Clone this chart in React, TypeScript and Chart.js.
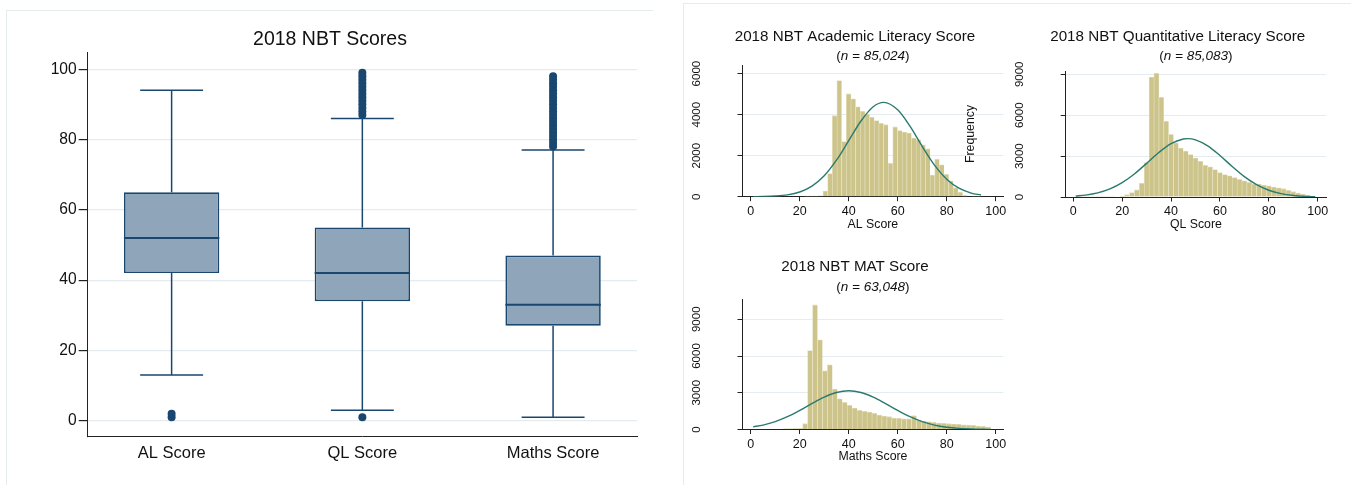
import React, { useEffect, useRef } from 'react';
import { Chart, registerables } from 'chart.js';

Chart.register(...registerables);

const FONT = '"Liberation Sans", Arial, Helvetica, sans-serif';
const NAVY = '#1a476f';
const BOX_FILL = '#8ea5ba';
const GRID = '#e4ecef';
const AXIS = '#222222';
const TEXT = '#111111';
const BAR_FILL = '#ccc48a';
const BAR_EDGE = '#e4dfba';
const CURVE = '#2a7a6f';
const FRAME = '#e6ecec';

// ---------- Box plot data ----------
const boxCategories = ['AL Score', 'QL Score', 'Maths Score'];
const boxLowerWhisker = [13, 3, 1];
const boxQ1 = [42, 34, 27];
const boxMedian = [52, 42, 33];
const boxQ3 = [65, 55, 47];
const boxUpperWhisker = [94, 86, 77];
const alOutliers = [1, 2];
const qlOutliers = [1, 87, 88, 89, 90, 91, 92, 93, 94, 95, 96, 97, 98, 99];
const mathsOutliers = [78, 79, 80, 81, 82, 83, 84, 85, 86, 87, 88, 89, 90, 91, 92, 93, 94, 95, 96, 97, 98];
const boxTitle = '2018 NBT Scores';
const boxYTicks = [0, 20, 40, 60, 80, 100];

// ---------- AL histogram ----------
const alTitle = '2018 NBT Academic Literacy Score';
const alN = '85,024';
const alXTitle = 'AL Score';
const alBinStart = 1;
const alBinWidth = 1.9;
const alCounts = [25, 20, 0, 0, 0, 0, 0, 0, 0, 0, 20, 25, 30, 35, 40, 280, 1130, 3950, 5660, 2690, 5010, 4770, 4380, 4160, 4030, 3870, 3710, 3580, 3510, 1630, 3400, 3220, 3150, 3100, 2860, 2780, 2530, 2330, 1060, 1830, 1550, 1090, 770, 440, 220, 60, 20, 10, 5];
const alCurveX = [1, 5, 10, 15, 20, 25, 30, 35, 40, 45, 50, 54.3, 60, 65, 70, 75, 80, 85, 90, 94];
const alCurveY = [3, 9, 31, 89, 229, 515, 1020, 1779, 2730, 3690, 4388, 4600, 4234, 3435, 2453, 1542, 853, 415, 178, 83];
const alYTicks = [0, 2000, 4000, 6000];

// ---------- QL histogram ----------
const qlTitle = '2018 NBT Quantitative Literacy Score';
const qlN = '85,083';
const qlXTitle = 'QL Score';
const qlBinStart = 1;
const qlBinWidth = 2;
const qlCounts = [10, 10, 10, 15, 15, 15, 20, 20, 30, 60, 170, 330, 520, 1000, 2530, 8790, 9080, 7310, 5560, 4590, 3980, 3590, 3370, 3110, 2860, 2620, 2330, 2210, 2010, 1800, 1650, 1550, 1430, 1290, 1190, 1070, 950, 950, 870, 825, 730, 680, 610, 485, 390, 290, 220, 120, 50];
const qlCurveX = [1, 5, 10, 15, 20, 25, 30, 35, 40, 45, 46.8, 50, 55, 60, 65, 70, 75, 80, 85, 90, 95, 99];
const qlCurveY = [71, 141, 304, 594, 1052, 1692, 2467, 3261, 3911, 4253, 4280, 4195, 3753, 3046, 2241, 1496, 906, 497, 248, 112, 46, 21];
const qlYTicks = [0, 3000, 6000, 9000];

// ---------- Maths histogram ----------
const mathsTitle = '2018 NBT MAT Score';
const mathsN = '63,048';
const mathsXTitle = 'Maths Score';
const mathsBinStart = 1;
const mathsBinWidth = 2.02;
const mathsCounts = [0, 0, 0, 0, 0, 40, 50, 60, 70, 80, 475, 6450, 10170, 7320, 4790, 5280, 3300, 2510, 2210, 1970, 1750, 1560, 1480, 1425, 1320, 1180, 1100, 1045, 940, 910, 880, 880, 1130, 775, 690, 640, 585, 530, 500, 475, 450, 420, 390, 365, 340, 285, 260, 200];
const mathsCurveX = [1, 5, 10, 15, 20, 25, 30, 35, 40, 45, 50, 55, 60, 65, 70, 75, 80, 85, 90, 95, 98];
const mathsCurveY = [214, 361, 642, 1044, 1556, 2121, 2647, 3023, 3160, 3023, 2647, 2121, 1556, 1044, 642, 361, 186, 88, 38, 15, 8];
const mathsYTicks = [0, 3000, 6000, 9000];

const xTickValues = [0, 20, 40, 60, 80, 100];

function drawSubtitle(ctx: CanvasRenderingContext2D, n: string, cx: number, cy: number, size: number) {
  const pre = '(';
  const it = 'n = ' + n;
  const post = ')';
  ctx.font = `${size}px ${FONT}`;
  const w1 = ctx.measureText(pre).width;
  const w3 = ctx.measureText(post).width;
  ctx.font = `italic ${size}px ${FONT}`;
  const w2 = ctx.measureText(it).width;
  let x = cx - (w1 + w2 + w3) / 2;
  ctx.textAlign = 'left';
  ctx.textBaseline = 'middle';
  ctx.font = `${size}px ${FONT}`;
  ctx.fillText(pre, x, cy);
  x += w1;
  ctx.font = `italic ${size}px ${FONT}`;
  ctx.fillText(it, x, cy);
  x += w2;
  ctx.font = `${size}px ${FONT}`;
  ctx.fillText(post, x, cy);
}

interface HistSpec {
  title: string;
  n: string;
  xTitle: string;
  binStart: number;
  binWidth: number;
  counts: number[];
  curveX: number[];
  curveY: number[];
  yTicks: number[];
  xMin: number;
  xMax: number;
  yMax: number;
  padLeft: number;
  padRight: number;
  padTop: number;
  xHeight: number;
  titleX: number;
  titleY: number;
  subY: number;
  yTitle?: { text: string; x: number; y: number };
}

function histConfig(s: HistSpec): any {
  const bars = s.counts.map((c, k) => ({ x: s.binStart + (k + 0.5) * s.binWidth, y: c }));
  const curve = s.curveX.map((x, i) => ({ x, y: s.curveY[i] }));
  const textPlugin = {
    id: 'histText',
    afterDraw(chart: any) {
      const { ctx, chartArea, scales } = chart;
      ctx.save();
      ctx.fillStyle = TEXT;
      ctx.textAlign = 'center';
      ctx.textBaseline = 'middle';
      ctx.font = `15.2px ${FONT}`;
      ctx.fillText(s.title, s.titleX, s.titleY);
      const cx = (chartArea.left + chartArea.right) / 2;
      drawSubtitle(ctx, s.n, cx, s.subY, 13.5);
      ctx.textAlign = 'center';
      ctx.font = `12.3px ${FONT}`;
      ctx.fillText(s.xTitle, cx, chartArea.bottom + 27.5);
      ctx.font = `11.5px ${FONT}`;
      s.yTicks.forEach((v) => {
        const py = scales.y.getPixelForValue(v);
        ctx.save();
        ctx.translate(chartArea.left - 46, py);
        ctx.rotate(-Math.PI / 2);
        ctx.fillText(String(v), 0, 0);
        ctx.restore();
      });
      if (s.yTitle) {
        ctx.font = `12.3px ${FONT}`;
        ctx.save();
        ctx.translate(s.yTitle.x, s.yTitle.y);
        ctx.rotate(-Math.PI / 2);
        ctx.fillText(s.yTitle.text, 0, 0);
        ctx.restore();
      }
      ctx.restore();
    },
  };
  return {
    type: 'bar',
    data: {
      datasets: [
        {
          type: 'line',
          data: curve,
          borderColor: CURVE,
          borderWidth: 1.4,
          pointRadius: 0,
          cubicInterpolationMode: 'monotone',
          fill: false,
          order: 0,
        },
        {
          type: 'bar',
          data: bars,
          backgroundColor: BAR_FILL,
          borderColor: BAR_EDGE,
          borderWidth: { left: 0.8, top: 0.8, right: 0, bottom: 0 },
          borderSkipped: 'start',
          barPercentage: 1,
          categoryPercentage: 1,
          order: 1,
        },
      ],
    },
    options: {
      responsive: false,
      animation: false,
      layout: { padding: { left: s.padLeft, right: s.padRight, top: s.padTop, bottom: 0 }, autoPadding: false },
      plugins: { legend: { display: false }, tooltip: { enabled: false }, title: { display: false } },
      scales: {
        x: {
          type: 'linear',
          min: s.xMin,
          max: s.xMax,
          offset: false,
          afterFit: (sc: any) => { sc.height = s.xHeight; },
          afterBuildTicks: (sc: any) => { sc.ticks = xTickValues.map((v) => ({ value: v })); },
          ticks: { font: { family: FONT, size: 12.5 }, color: TEXT, padding: 3, maxRotation: 0, autoSkip: false },
          grid: { offset: false, drawOnChartArea: false, drawTicks: true, tickLength: 4.5, tickColor: AXIS },
          border: { display: true, color: AXIS, width: 1 },
        },
        y: {
          type: 'linear',
          min: 0,
          max: s.yMax,
          afterFit: (sc: any) => { sc.width = 0; },
          afterBuildTicks: (sc: any) => { sc.ticks = s.yTicks.map((v) => ({ value: v })); },
          ticks: { display: true, color: 'rgba(0,0,0,0)', font: { family: FONT, size: 11 } },
          grid: { color: GRID, lineWidth: 1, drawTicks: true, tickLength: 5, tickColor: AXIS },
          border: { display: true, color: AXIS, width: 1 },
        },
      },
    },
    plugins: [textPlugin],
  };
}

const boxPlugin = {
  id: 'boxParts',
  afterDatasetsDraw(chart: any) {
    const { ctx, scales } = chart;
    const x = scales.x;
    const y = scales.y;
    const meta = chart.getDatasetMeta(0);
    ctx.save();
    ctx.strokeStyle = NAVY;
    boxCategories.forEach((_, i) => {
      const el = meta.data[i];
      const cx = x.getPixelForValue(i);
      const half = el.width / 2;
      const capHalf = half * 0.66;
      const yLo = y.getPixelForValue(boxLowerWhisker[i]);
      const yQ1 = y.getPixelForValue(boxQ1[i]);
      const yQ3 = y.getPixelForValue(boxQ3[i]);
      const yHi = y.getPixelForValue(boxUpperWhisker[i]);
      const yMed = y.getPixelForValue(boxMedian[i]);
      ctx.lineWidth = 1.5;
      ctx.beginPath();
      ctx.moveTo(cx, yQ3);
      ctx.lineTo(cx, yHi);
      ctx.moveTo(cx - capHalf, yHi);
      ctx.lineTo(cx + capHalf, yHi);
      ctx.moveTo(cx, yQ1);
      ctx.lineTo(cx, yLo);
      ctx.moveTo(cx - capHalf, yLo);
      ctx.lineTo(cx + capHalf, yLo);
      ctx.stroke();
      ctx.lineWidth = 2;
      ctx.beginPath();
      ctx.moveTo(cx - half, yMed);
      ctx.lineTo(cx + half, yMed);
      ctx.stroke();
    });
    ctx.restore();
  },
  afterDraw(chart: any) {
    const { ctx } = chart;
    ctx.save();
    ctx.fillStyle = TEXT;
    ctx.textAlign = 'center';
    ctx.textBaseline = 'middle';
    ctx.font = `19.5px ${FONT}`;
    ctx.fillText(boxTitle, 330, 39.5);
    ctx.restore();
  },
};

function boxConfig(): any {
  const outliers = [
    ...alOutliers.map((v) => ({ x: 0, y: v })),
    ...qlOutliers.map((v) => ({ x: 1, y: v })),
    ...mathsOutliers.map((v) => ({ x: 2, y: v })),
  ];
  return {
    type: 'bar',
    data: {
      datasets: [
        {
          type: 'bar',
          data: boxCategories.map((_, i) => ({ x: i, y: [boxQ1[i], boxQ3[i]] })),
          backgroundColor: BOX_FILL,
          borderColor: NAVY,
          borderWidth: 1.7,
          borderSkipped: false,
          barPercentage: 0.5,
          categoryPercentage: 1,
          order: 2,
        },
        {
          type: 'scatter',
          data: outliers,
          pointRadius: 4,
          pointBackgroundColor: NAVY,
          pointBorderColor: NAVY,
          pointBorderWidth: 0,
          order: 0,
        },
      ],
    },
    options: {
      responsive: false,
      animation: false,
      layout: { padding: { left: 0, right: 33, top: 52.7, bottom: 0 }, autoPadding: false },
      plugins: { legend: { display: false }, tooltip: { enabled: false }, title: { display: false } },
      scales: {
        x: {
          type: 'linear',
          min: -0.44,
          max: 2.44,
          offset: false,
          afterFit: (sc: any) => { sc.height = 48.3; },
          afterBuildTicks: (sc: any) => { sc.ticks = boxCategories.map((_, i) => ({ value: i })); },
          ticks: {
            callback: (v: any) => boxCategories[v] ?? '',
            font: { family: FONT, size: 16.5 },
            color: TEXT,
            padding: 6.4,
            maxRotation: 0,
            autoSkip: false,
          },
          grid: { display: false, drawTicks: false, offset: false },
          border: { display: true, color: AXIS, width: 1 },
        },
        y: {
          type: 'linear',
          min: -4.55,
          max: 104.7,
          afterFit: (sc: any) => { sc.width = 87.7; },
          afterBuildTicks: (sc: any) => { sc.ticks = boxYTicks.map((v) => ({ value: v })); },
          ticks: { font: { family: FONT, size: 15.6 }, color: TEXT, padding: 2 },
          grid: { color: GRID, lineWidth: 1.2, drawTicks: true, tickLength: 9, tickColor: AXIS },
          border: { display: true, color: AXIS, width: 1 },
        },
      },
    },
    plugins: [boxPlugin],
  };
}

const alSpec: HistSpec = {
  title: alTitle, n: alN, xTitle: alXTitle, binStart: alBinStart, binWidth: alBinWidth,
  counts: alCounts, curveX: alCurveX, curveY: alCurveY, yTicks: alYTicks,
  xMin: -3.35, xMax: 103.1, yMax: 6420,
  padLeft: 59.5, padRight: 16.7, padTop: 65, xHeight: 43.3,
  titleX: 172, titleY: 36.7, subY: 56.7,
};

const qlSpec: HistSpec = {
  title: qlTitle, n: qlN, xTitle: qlXTitle, binStart: qlBinStart, binWidth: qlBinWidth,
  counts: qlCounts, curveX: qlCurveX, curveY: qlCurveY, yTicks: qlYTicks,
  xMin: -3.1, xMax: 103.4, yMax: 9190,
  padLeft: 110.7, padRight: 25, padTop: 71.7, xHeight: 43,
  titleX: 222.7, titleY: 36.7, subY: 56.7,
  yTitle: { text: 'Frequency', x: 15.8, y: 134 },
};

const mathsSpec: HistSpec = {
  title: mathsTitle, n: mathsN, xTitle: mathsXTitle, binStart: mathsBinStart, binWidth: mathsBinWidth,
  counts: mathsCounts, curveX: mathsCurveX, curveY: mathsCurveY, yTicks: mathsYTicks,
  xMin: -3.35, xMax: 103.1, yMax: 10630,
  padLeft: 59.5, padRight: 16.7, padTop: 59.3, xHeight: 55.5,
  titleX: 172, titleY: 27.3, subY: 47.7,
};

export default function App() {
  const boxRef = useRef<HTMLCanvasElement>(null);
  const alRef = useRef<HTMLCanvasElement>(null);
  const qlRef = useRef<HTMLCanvasElement>(null);
  const mathsRef = useRef<HTMLCanvasElement>(null);

  useEffect(() => {
    const charts: Chart[] = [];
    if (boxRef.current) charts.push(new Chart(boxRef.current, boxConfig()));
    if (alRef.current) charts.push(new Chart(alRef.current, histConfig(alSpec)));
    if (mathsRef.current) charts.push(new Chart(mathsRef.current, histConfig(mathsSpec)));
    if (qlRef.current) charts.push(new Chart(qlRef.current, histConfig(qlSpec)));
    return () => charts.forEach((c) => c.destroy());
  }, []);

  const abs = (left: number, top: number, w: number, h: number): React.CSSProperties => ({
    position: 'absolute', left, top, width: w, height: h,
  });

  return (
    <div style={{ position: 'fixed', left: 0, top: 0, width: 1351, height: 485, background: '#ffffff', overflow: 'hidden' }}>
      <div style={{ position: 'absolute', left: 6, top: 10, width: 646, height: 480, borderTop: `1px solid ${FRAME}`, borderLeft: `1px solid ${FRAME}` }} />
      <div style={{ position: 'absolute', left: 683, top: 3, width: 680, height: 490, borderTop: `1px solid ${FRAME}`, borderLeft: `1px solid ${FRAME}` }} />
      <canvas ref={boxRef} width={670} height={485} style={abs(0, 0, 670, 485)} />
      <canvas ref={alRef} width={337} height={240} style={abs(683, 0, 337, 240)} />
      <canvas ref={mathsRef} width={337} height={245} style={abs(683, 240, 337, 245)} />
      <canvas ref={qlRef} width={396} height={240} style={abs(955, 0, 396, 240)} />
    </div>
  );
}
